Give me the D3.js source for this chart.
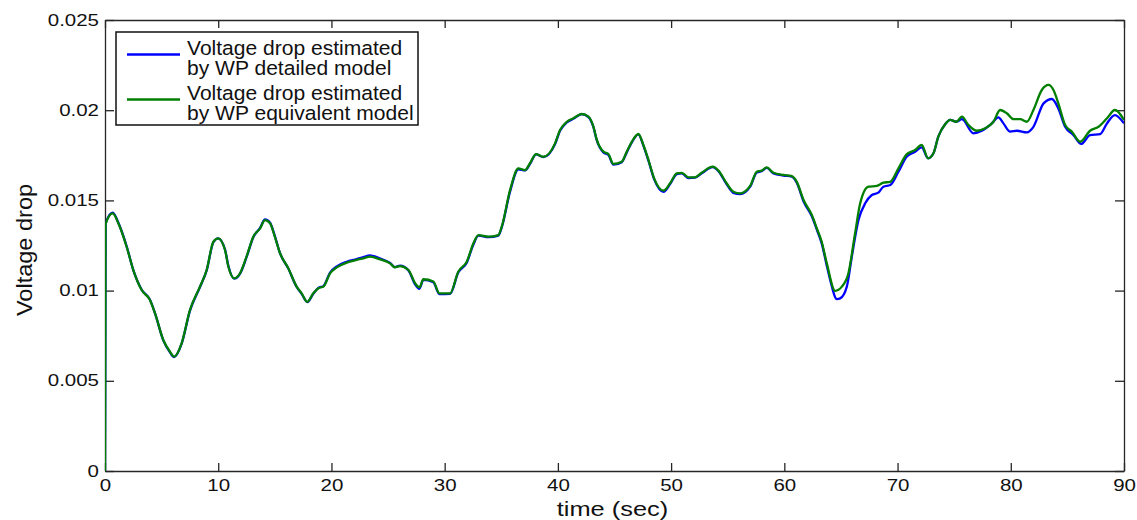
<!DOCTYPE html>
<html>
<head>
<meta charset="utf-8">
<script src="https://cdn.jsdelivr.net/npm/d3@7"></script>
<style>
	html, body { margin:0; padding:0; background:#fff; }
	svg { display:block; font-family:"Liberation Sans", Arial, sans-serif; }
	.ax path, .ax line { stroke:#262626; stroke-width:1.3; }
	.ax text { fill:#111; font-size:16px; }
	.lbl { fill:#111; }
	.curve { fill:none; stroke-width:2.3; stroke-linejoin:round; }
</style>
</head>
<body>
<svg id="chart" width="1137" height="520"></svg>
<script>
// [time (sec), voltage drop]
var detailedModel = [
	[0,0],[0.05,0.0137],[0.68,0.01432],[1.18,0.01376],[1.91,0.01246],[2.5,0.01114],[3.24,0.01005],
	[3.97,0.0095],[4.42,0.00874],[5.15,0.00724],[5.74,0.00658],[6.1,0.00632],[6.77,0.00706],
	[7.5,0.00888],[8.39,0.0102],[8.98,0.01112],[9.57,0.01268],[10.0,0.0129],[10.6,0.01228],
	[10.9,0.01136],[11.42,0.01066],[11.93,0.01094],[12.5,0.01185],[13.1,0.01296],[13.7,0.01348],
	[14.13,0.01394],[14.58,0.01376],[15.0,0.01302],[15.46,0.01207],[16.19,0.01122],[16.93,0.0102],
	[17.37,0.00982],[17.87,0.00936],[18.4,0.00983],[18.85,0.01015],[19.29,0.01025],[19.88,0.011],
	[20.47,0.01134],[21.35,0.0116],[22.23,0.01174],[22.82,0.01186],[23.4,0.01195],[24.3,0.01178],
	[25.18,0.01153],[25.6,0.0113],[26.06,0.01138],[26.8,0.01112],[27.4,0.01034],[27.77,0.0101],
	[28.12,0.0106],[29.0,0.01046],[29.53,0.0098],[30.48,0.00982],[31.2,0.011],[31.95,0.01155],
	[32.54,0.01256],[32.98,0.01305],[33.86,0.01296],[34.74,0.01305],[35.04,0.0135],[35.78,0.0155],
	[36.51,0.01672],[37.1,0.01666],[37.54,0.01702],[38.07,0.01755],[38.72,0.0174],[39.75,0.01812],
	[40.19,0.01886],[40.79,0.01932],[41.37,0.01952],[42.11,0.01978],[42.7,0.01962],[43.14,0.01906],
	[43.44,0.01832],[44.02,0.01766],[44.46,0.01752],[44.9,0.01698],[45.64,0.01712],[46.08,0.01766],
	[46.53,0.01822],[47.11,0.01866],[47.55,0.01804],[48.0,0.0172],[48.5,0.01618],[49.32,0.01548],
	[49.91,0.0159],[50.5,0.01646],[50.94,0.0165],[51.53,0.01624],[52.1,0.01626],[52.7,0.0165],
	[53.68,0.01684],[54.18,0.01662],[54.9,0.0159],[55.5,0.01542],[56.1,0.01535],[56.98,0.01576],
	[57.57,0.01655],[58.0,0.01662],[58.45,0.0168],[59.04,0.0165],[59.92,0.01638],[60.66,0.01632],
	[61.1,0.01598],[61.7,0.01494],[62.43,0.01412],[62.87,0.01338],[63.3,0.01262],[63.75,0.01138],
	[64.05,0.01059],[64.64,0.00953],[64.93,0.00957],[65.52,0.01022],[65.96,0.01188],[66.55,0.01391],
	[67.14,0.01484],[67.73,0.0153],[68.3,0.01543],[68.75,0.01576],[69.35,0.01585],[70.08,0.01659],
	[70.8,0.01742],[71.55,0.0177],[72.13,0.01794],[72.7,0.01733],[73.17,0.01761],[73.6,0.01853],
	[74.2,0.01922],[74.65,0.01946],[75.2,0.01936],[75.68,0.0195],[76.7,0.01872],[77.45,0.01886],
	[78.33,0.01927],[78.9,0.0196],[79.35,0.01927],[79.95,0.01881],[80.54,0.01886],[81.42,0.01877],
	[82.0,0.01908],[82.9,0.02038],[83.63,0.02062],[84.2,0.0201],[84.8,0.01908],[85.54,0.01862],
	[86.22,0.01813],[87.0,0.01862],[87.9,0.01868],[88.5,0.01927],[89.2,0.01973],[90,0.01927]
];

var equivalentModel = [
	[0,0],[0.05,0.0137],[0.68,0.01428],[1.18,0.01373],[1.91,0.01243],[2.5,0.01114],[3.24,0.01003],
	[3.97,0.00948],[4.42,0.00874],[5.15,0.00726],[5.74,0.00661],[6.1,0.00634],[6.77,0.00708],
	[7.5,0.00892],[8.39,0.01022],[8.98,0.01114],[9.57,0.01271],[10.0,0.0129],[10.6,0.01225],
	[10.9,0.01132],[11.42,0.01068],[11.93,0.01096],[12.5,0.01188],[13.1,0.01299],[13.7,0.01345],
	[14.13,0.01391],[14.58,0.01373],[15.0,0.01299],[15.46,0.01207],[16.19,0.01124],[16.93,0.01022],
	[17.37,0.00985],[17.87,0.00938],[18.4,0.00985],[18.85,0.01013],[19.29,0.01022],[19.88,0.01096],
	[20.47,0.01129],[21.35,0.01155],[22.23,0.0117],[22.82,0.01179],[23.4,0.01188],[24.3,0.01173],
	[25.18,0.01151],[25.6,0.01129],[26.06,0.01136],[26.8,0.01114],[27.4,0.0104],[27.77,0.01018],
	[28.12,0.01063],[29.0,0.0105],[29.53,0.00985],[30.48,0.00985],[31.2,0.01105],[31.95,0.0116],
	[32.54,0.01262],[32.98,0.01308],[33.86,0.01299],[34.74,0.01308],[35.04,0.01354],[35.78,0.01558],
	[36.51,0.01678],[37.1,0.01668],[37.54,0.01706],[38.07,0.01757],[38.72,0.01742],[39.75,0.01816],
	[40.19,0.0189],[40.79,0.01936],[41.37,0.01955],[42.11,0.01979],[42.7,0.01964],[43.14,0.01908],
	[43.44,0.01835],[44.02,0.0177],[44.46,0.01757],[44.9,0.01702],[45.64,0.01714],[46.08,0.0177],
	[46.53,0.01825],[47.11,0.01868],[47.55,0.01807],[48.0,0.01724],[48.5,0.01622],[49.32,0.01554],
	[49.91,0.01595],[50.5,0.0165],[50.94,0.01653],[51.53,0.01628],[52.1,0.01628],[52.7,0.01653],
	[53.68,0.01687],[54.18,0.01665],[54.9,0.01595],[55.5,0.01548],[56.1,0.01539],[56.98,0.0158],
	[57.57,0.01659],[58.0,0.01665],[58.45,0.01683],[59.04,0.01653],[59.92,0.01641],[60.66,0.01635],
	[61.1,0.01603],[61.7,0.01502],[62.43,0.01419],[62.87,0.01345],[63.3,0.01271],[63.75,0.01151],
	[64.49,0.00999],[65.08,0.01022],[65.66,0.01096],[66.25,0.01318],[66.7,0.01484],[67.43,0.01576],
	[68.17,0.0158],[68.75,0.01598],[69.35,0.01603],[70.08,0.01678],[70.8,0.01755],[71.55,0.01779],
	[72.13,0.01807],[72.7,0.01733],[73.17,0.01761],[73.6,0.01853],[74.2,0.01922],[74.65,0.01946],
	[75.2,0.01936],[75.68,0.01964],[76.26,0.01918],[77.0,0.01886],[77.74,0.019],[78.47,0.01936],
	[79.06,0.02001],[79.65,0.01983],[80.24,0.0195],[80.83,0.0195],[81.42,0.01936],[82.0,0.02001],
	[82.74,0.02112],[83.33,0.0214],[83.77,0.02112],[84.2,0.02038],[84.8,0.01918],[85.4,0.01881],
	[86.13,0.01825],[87.0,0.01886],[87.75,0.01908],[88.5,0.01955],[89.2,0.02001],[90,0.01946]
];

var xTicks = [0,10,20,30,40,50,60,70,80,90];
var yTicks = [0,0.005,0.01,0.015,0.02,0.025];
var yTickLabels = ['0','0.005','0.01','0.015','0.02','0.025'];
var seriesNames = [
	['Voltage drop estimated','by WP detailed model'],
	['Voltage drop estimated','by WP equivalent model']
];
var seriesColors = ['#0000ff','#007f00'];

(function(){
	var box = {left:105, top:20, right:1124, bottom:471};
	var svg = d3.select('#chart');

	var x = d3.scaleLinear().domain([0,90]).range([box.left, box.right]);
	var y = d3.scaleLinear().domain([0,0.025]).range([box.bottom, box.top]);

	// matlab style box, ticks point inward on all four sides
	var gx = svg.append('g').attr('class','ax')
		.attr('transform','translate(0,'+box.bottom+')')
		.call(d3.axisBottom(x).tickValues(xTicks).tickSize(-8).tickSizeOuter(0).tickPadding(9));
	gx.selectAll('text').attr('transform','scale(1.28,1)');

	svg.append('g').attr('class','ax')
		.attr('transform','translate(0,'+box.top+')')
		.call(d3.axisTop(x).tickValues(xTicks).tickSize(-8).tickSizeOuter(0).tickFormat(''));

	var gy = svg.append('g').attr('class','ax')
		.attr('transform','translate('+box.left+',0)')
		.call(d3.axisLeft(y).tickValues(yTicks).tickSize(-9).tickSizeOuter(0).tickPadding(4.7)
			.tickFormat(function(d,i){ return yTickLabels[i]; }));
	gy.selectAll('text').attr('transform','scale(1.28,1)');

	svg.append('g').attr('class','ax')
		.attr('transform','translate('+box.right+',0)')
		.call(d3.axisRight(y).tickValues(yTicks).tickSize(-9).tickSizeOuter(0).tickFormat(''));

	// curves
	svg.append('clipPath').attr('id','clip').append('rect')
		.attr('x',box.left).attr('y',box.top - 2)
		.attr('width',box.right - box.left).attr('height',box.bottom - box.top + 2);

	var line = d3.line()
		.x(function(d){ return x(d[0]); })
		.y(function(d){ return y(d[1]); })
		.curve(d3.curveMonotoneX);

	var gc = svg.append('g').attr('clip-path','url(#clip)');
	[detailedModel, equivalentModel].forEach(function(s,i){
		gc.append('path').attr('class','curve')
			.attr('stroke',seriesColors[i])
			.attr('d',line(s));
	});

	// axis labels
	svg.append('text').attr('class','lbl')
		.attr('transform','translate('+((box.left+box.right)/2 - 2)+',516) scale(1.27,1)')
		.attr('text-anchor','middle').style('font-size','20px')
		.text('time (sec)');

	svg.append('text').attr('class','lbl')
		.attr('transform','translate(32,250) rotate(-90) scale(1.07,1)')
		.attr('text-anchor','middle').style('font-size','22px')
		.text('Voltage drop');

	// legend
	var lg = svg.append('g');
	lg.append('rect')
		.attr('x',116).attr('y',32).attr('width',302).attr('height',93)
		.attr('fill','#fff').attr('stroke','#111').attr('stroke-width',1.5);

	var rowY = [55, 100];
	seriesNames.forEach(function(lines,i){
		lg.append('line')
			.attr('x1',127).attr('x2',180)
			.attr('y1',rowY[i] - 0.5).attr('y2',rowY[i] - 0.5)
			.attr('stroke',seriesColors[i]).attr('stroke-width',2.3);
		lines.forEach(function(t,j){
			lg.append('text').attr('class','lbl')
				.attr('transform','translate(187,'+(rowY[i] + j*19.5)+') scale(1.08,1)')
				.style('font-size','19.5px')
				.text(t);
		});
	});
})();
</script>
</body>
</html>
